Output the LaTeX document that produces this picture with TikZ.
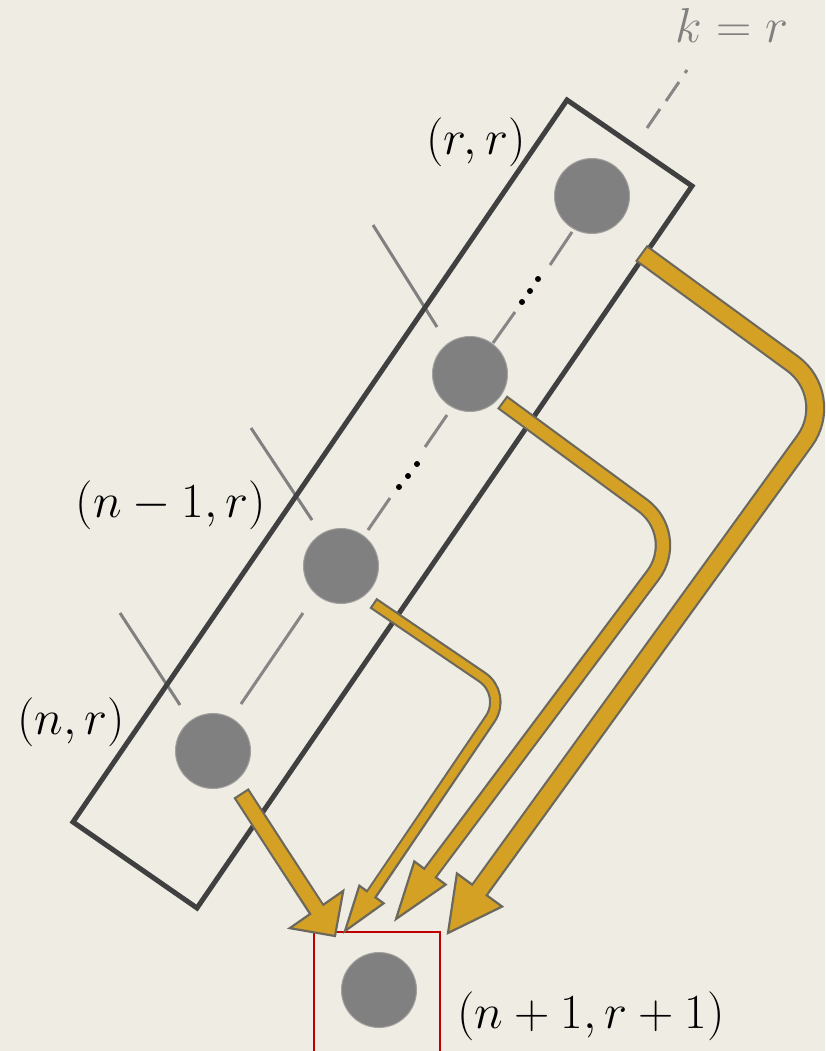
\documentclass[tikz,border=0pt]{standalone}
\usepackage{graphicx}
\usetikzlibrary{calc}
\definecolor{paper}{RGB}{239,236,227}
\definecolor{gold}{RGB}{213,161,37}
\definecolor{rimgray}{RGB}{108,105,92}
\definecolor{dotgray}{RGB}{128,128,128}
\definecolor{boxgray}{RGB}{64,64,64}
\definecolor{framered}{RGB}{192,0,0}
\newcommand{\bigmath}[1]{\scalebox{1.97}{\Huge #1}}
\tikzset{
  vertex/.style={circle,fill=dotgray,draw=dotgray!70!paper,line width=1pt,minimum size=75pt,inner sep=0pt},
  lab/.style={inner sep=0pt},
  diag/.style={draw=dotgray!95!white,line width=3pt},
  tickline/.style={draw=dotgray,line width=3pt},
  rim/.style={draw=rimgray,line width=#1},
  core/.style={draw=gold,line width=#1},
  head/.style={fill=gold,draw=rimgray,line width=2.2pt,line join=miter},
}
\begin{document}
\begin{tikzpicture}[x=1pt,y=-1pt]
\useasboundingbox (0,0) rectangle (825,1051);
\clip (0,0) rectangle (825,1051);
\fill[paper] (0,0) rectangle (825,1051);
% the line k = r
\draw[diag] (687,70) -- (685,73) (679,82) -- (666,101) (660,109) -- (647,128)
  (572,232) -- (550,265) (515,312) -- (493,343) (447,415) -- (425,447)
  (390,498) -- (368,530) (303,613) -- (241,704);
\foreach \x/\y in {538/279,530/291,522/302,417/464,408/476,399/487}{\fill (\x,\y) circle (3pt);}
\draw[tickline] (373,225) -- (437,327) (251,428) -- (312,520) (120,613) -- (180,705);
\draw[boxgray,line width=5pt,line join=miter] (567,100) -- (692,186) -- (197,908) -- (73,822) -- cycle;
% points
\node[vertex] (v1) at (592,196) {};
\node[vertex] (v2) at (470,374) {};
\node[vertex] (v3) at (341,566) {};
\node[vertex] (v4) at (213,751) {};
\node[vertex] (w) at (379,990) {};
\node[draw=framered,line width=2.5pt,minimum size=126pt,inner sep=0pt] (frame) at (377,995) {};
% labels
\node[lab,text=dotgray,anchor=base] (lk) at (732,43) {\bigmath{$k=r$}};
\node[lab] (l1) at (476,142) {\bigmath{$(r,r)$}};
\node[lab] (l3) at (171,505) {\bigmath{$(n-1,r)$}};
\node[lab] (l4) at (71,722) {\bigmath{$(n,r)$}};
\node[lab] (lw) at (591,1016) {\bigmath{$(n+1,r+1)$}};
% arrows
\coordinate (a1s) at ($(v4)+(28,42)$);
\coordinate (a1b) at ($(w)+(-62.5,-80.5)$);
\coordinate (a1t) at ($(w)+(-44,-54)$);
\coordinate (a1c) at ($(a1s)!0.5!(a1b)$);
\coordinate (a2s) at ($(v3)+(32,37)$);
\coordinate (a2c) at (507,694);
\coordinate (a2b) at ($(w)+(-7.5,-95.5)$);
\coordinate (a2t) at ($(w)+(-34,-59)$);
\coordinate (a3s) at ($(v2)+(32,28)$);
\coordinate (a3c) at (683,535);
\coordinate (a3b) at ($(w)+(51,-117)$);
\coordinate (a3t) at ($(w)+(17,-71)$);
\coordinate (a4s) at ($(v1)+(49,57)$);
\coordinate (a4c) at (837,396);
\coordinate (a4b) at ($(w)+(100.5,-100)$);
\coordinate (a4t) at ($(w)+(69,-57)$);
\foreach \idx/\w/\h/\r in {1/18/32.6/1,2/12.5/15/30,3/16.5/19.5/50,4/20/28/55}{
  \draw[rim=\w pt,rounded corners=\r pt] (a\idx s) -- (a\idx c) -- ($(a\idx b)!0.15!(a\idx t)$);
  \draw[head] ($(a\idx b)!\h pt!90:(a\idx t)$) -- (a\idx t) -- ($(a\idx b)!\h pt!-90:(a\idx t)$) -- cycle;
  \draw[core=\w pt-4.4pt,rounded corners=\r pt,shorten <=2.2pt] (a\idx s) -- (a\idx c) -- ($(a\idx b)!0.3!(a\idx t)$);
}
\end{tikzpicture}
\end{document}
